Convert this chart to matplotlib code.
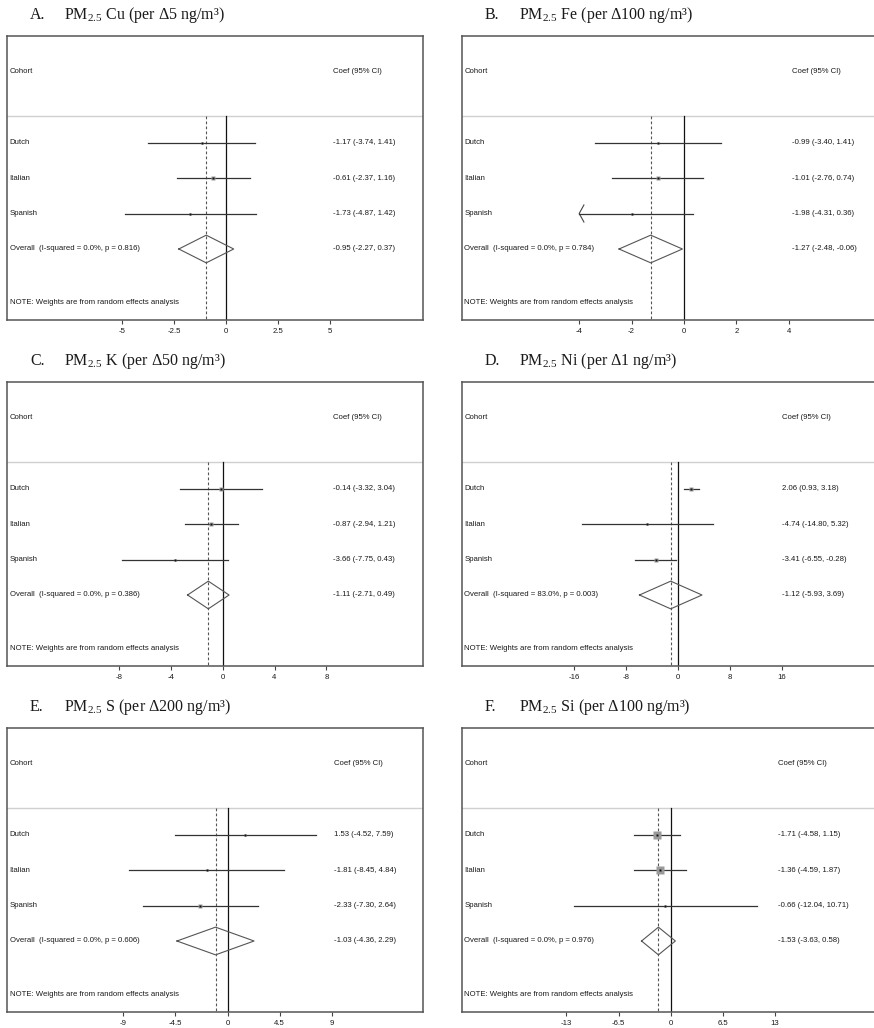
import matplotlib
matplotlib.use('Agg')
from matplotlib import pyplot as plt
import matplotlib.transforms as mtransforms

matplotlib.rcParams['font.family'] = 'sans-serif'
matplotlib.rcParams['font.sans-serif'] = ['Liberation Sans']
matplotlib.rcParams['mathtext.fontset'] = 'custom'
matplotlib.rcParams['mathtext.rm'] = 'Liberation Serif'

### data (rows: Dutch, Italian, Spanish, Overall)
cohorts = ['Dutch', 'Italian', 'Spanish']
letters = ['A.', 'B.', 'C.', 'D.', 'E.', 'F.']
elements = ['Cu', 'Fe', 'K', 'Ni', 'S', 'Si']
increments = ['5', '100', '50', '1', '200', '100']

cu_est = [-1.17, -0.61, -1.73, -0.95]
cu_lo = [-3.74, -2.37, -4.87, -2.27]
cu_hi = [1.41, 1.16, 1.42, 0.37]

fe_est = [-0.99, -1.01, -1.98, -1.27]
fe_lo = [-3.40, -2.76, -4.31, -2.48]
fe_hi = [1.41, 0.74, 0.36, -0.06]

k_est = [-0.14, -0.87, -3.66, -1.11]
k_lo = [-3.32, -2.94, -7.75, -2.71]
k_hi = [3.04, 1.21, 0.43, 0.49]

ni_est = [2.06, -4.74, -3.41, -1.12]
ni_lo = [0.93, -14.80, -6.55, -5.93]
ni_hi = [3.18, 5.32, -0.28, 3.69]

s_est = [1.53, -1.81, -2.33, -1.03]
s_lo = [-4.52, -8.45, -7.30, -4.36]
s_hi = [7.59, 4.84, 2.64, 2.29]

si_est = [-1.71, -1.36, -0.66, -1.53]
si_lo = [-4.58, -4.59, -12.04, -3.63]
si_hi = [1.15, 1.87, 10.71, 0.58]

i_squared = [0.0, 0.0, 0.0, 83.0, 0.0, 0.0]
p_het = [0.816, 0.784, 0.386, 0.003, 0.606, 0.976]

# box size of each study (px)
box_cu = [2, 4.5, 2]
box_fe = [2, 3, 2]
box_k = [3.5, 4, 2]
box_ni = [4, 2, 3]
box_s = [2, 2, 3]
box_si = [8.5, 8, 2]

ticks_cu = [-5, -2.5, 0, 2.5, 5]
ticks_fe = [-4, -2, 0, 2, 4]
ticks_k = [-8, -4, 0, 4, 8]
ticks_ni = [-16, -8, 0, 8, 16]
ticks_s = [-9, -4.5, 0, 4.5, 9]
ticks_si = [-13, -6.5, 0, 6.5, 13]

all_est = [cu_est, fe_est, k_est, ni_est, s_est, si_est]
all_lo = [cu_lo, fe_lo, k_lo, ni_lo, s_lo, si_lo]
all_hi = [cu_hi, fe_hi, k_hi, ni_hi, s_hi, si_hi]
all_box = [box_cu, box_fe, box_k, box_ni, box_s, box_si]
all_ticks = [ticks_cu, ticks_fe, ticks_k, ticks_ni, ticks_s, ticks_si]

### layout (pixels)
W, H = 874, 1028
box_w, box_h = 416, 284
lefts = [7, 462, 7, 462, 7, 462]
tops = [36, 36, 382, 382, 728, 728]
zero_px = [226, 684, 222.7, 678, 227.5, 670.7]
px_per_unit = [20.8, 26.2, 12.96, 6.5, 11.6, 8.03]
coef_x = [326, 330, 326, 320, 327, 316]

fs = 5.6
tcol = '#1a1a1a'

fig = plt.figure(figsize=(W/100, H/100), dpi=100)

for p in range(6):
    x0, y0 = lefts[p], tops[p]
    ax = fig.add_axes([x0/W, 1-(y0+box_h)/H, box_w/W, box_h/H])
    xmin = (x0 - zero_px[p])/px_per_unit[p]
    xmax = (x0 + box_w - zero_px[p])/px_per_unit[p]
    ax.set_xlim(xmin, xmax)
    ax.set_ylim(8, 0)
    ax.set_yticks([])
    ticks = all_ticks[p]
    ax.set_xticks(ticks)
    ax.set_xticklabels(['%g' % t for t in ticks])
    ax.tick_params(axis='x', length=3, width=0.8, color='#444', labelsize=fs,
                   pad=2.5, labelcolor=tcol)
    for sp in ax.spines.values():
        sp.set_color('#555')
        sp.set_linewidth(1.1)

    est, lo, hi = all_est[p], all_lo[p], all_hi[p]
    ov = est[3]

    ax.axhline(2.25, color='#d0d0d0', lw=1)
    ax.plot([0, 0], [2.25, 8], color='#111', lw=0.9)
    ax.plot([ov, ov], [2.25, 8], color='#555', lw=0.8, ls=(0, (2.5, 2)))

    for i in range(3):
        y = 3 + i
        l, h = lo[i], hi[i]
        if l < ticks[0]:
            l = ticks[0]
            ax.plot([l + 0.18*(ticks[-1]-ticks[0])/8, l, l + 0.18*(ticks[-1]-ticks[0])/8],
                    [y - 0.24, y, y + 0.24], color='#444', lw=0.8)
        if h > ticks[-1]:
            h = ticks[-1]
        ax.plot([l, h], [y, y], color='#333', lw=0.9)
        ax.plot(est[i], y, marker='s', ms=all_box[p][i]*0.75, color='#9a9a9a', mec='none')
        ax.plot(est[i], y, marker='s', ms=1.5, color='#111', mec='none')

    ax.plot([lo[3], ov, hi[3], ov, lo[3]], [6, 6 - 0.39, 6, 6 + 0.39, 6],
            color='#555', lw=0.8)

    tr = mtransforms.blended_transform_factory(ax.transAxes, ax.transData)
    cx = coef_x[p]/box_w
    lx = 2.5/box_w
    ax.text(lx, 1, 'Cohort', transform=tr, fontsize=fs, color=tcol, va='center')
    ax.text(cx, 1, 'Coef (95% CI)', transform=tr, fontsize=fs, color=tcol, va='center')
    for i in range(3):
        ax.text(lx, 3 + i, cohorts[i], transform=tr, fontsize=fs, color=tcol, va='center')
    ax.text(lx, 6, 'Overall  (I-squared = %.1f%%, p = %.3f)' % (i_squared[p], p_het[p]),
            transform=tr, fontsize=fs, color=tcol, va='center')
    for i in range(4):
        ax.text(cx, 3 + i, '%.2f (%.2f, %.2f)' % (est[i], lo[i], hi[i]),
                transform=tr, fontsize=fs, color=tcol, va='center')
    ax.text(lx, 7.5, 'NOTE: Weights are from random effects analysis',
            transform=tr, fontsize=fs, color=tcol, va='center')

    # panel title
    ty = 1 - (y0 - 21)/H
    fig.text((x0 + 23)/W, ty, letters[p], fontsize=11.5, family='Liberation Serif',
             color=tcol, va='center')
    fig.text((x0 + 57)/W, ty,
             r'PM$_{\mathrm{2.5}}$ %s (per Δ%s ng/m³)' % (elements[p], increments[p]),
             fontsize=11.5, family='Liberation Serif', color=tcol, va='center')

plt.savefig('out.png', dpi=100)
